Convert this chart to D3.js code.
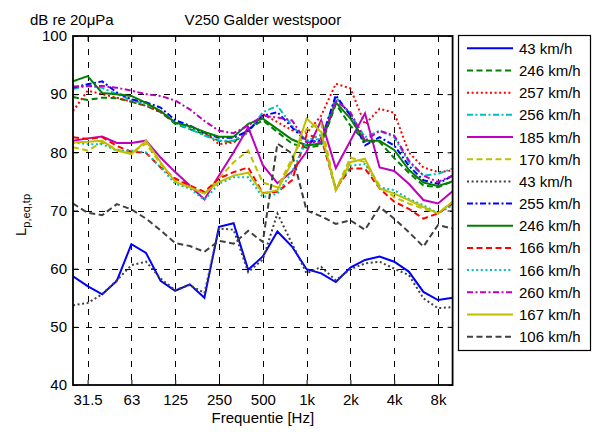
<!DOCTYPE html>
<html><head><meta charset="utf-8">
<script src="https://cdn.jsdelivr.net/npm/d3@7"></script>
<style>body{margin:0;background:#fff}svg{display:block;font-family:"Liberation Sans",Arial,sans-serif}</style>
</head><body><svg id="c" width="601" height="432"></svg>
<script>
const bands = ["25","31.5","40","50","63","80","100","125","160","200","250","315","400","500","630","800","1k","1.25k","1.6k","2k","2.5k","3.15k","4k","5k","6.3k","8k","10k"];
const xTicks = ["31.5","63","125","250","500","1k","2k","4k","8k"];
const yTicks = [40,50,60,70,80,90,100];
const seriesLabels = ["43 km/h","246 km/h","257 km/h","256 km/h","185 km/h","170 km/h","43 km/h","255 km/h","246 km/h","166 km/h","166 km/h","260 km/h","167 km/h","106 km/h"];

const blue43 = [58.7,57,55.6,57.9,64.2,62.7,57.9,56.2,57.3,55,67.2,67.8,59.8,62.1,66.4,63.8,59.9,59.2,57.7,60.2,61.5,62.1,61.2,59.5,56,54.6,55];
const green246dash = [89.5,89,89.4,89.3,88.7,88,86.9,84.9,84,83.1,82,81.7,84,85.5,83.5,81.5,80.8,81.2,88.3,84.6,81.8,81.8,79,76.5,74.3,74,75];
const red257 = [87.1,90.6,90,89.4,88.7,88,86.9,85.1,84.3,83.4,81.4,81.7,83.5,86.6,85.2,83.8,83.3,86.3,91.8,91,84.8,87.5,86.8,80,77.4,76.6,76.9];
const cyan256 = [90.9,91.4,91.1,90,89,88.3,87.1,85.1,84,82.9,82,82,83.4,86.9,88,84.6,82,82.3,89.5,86.6,82.6,83.7,82.6,78.3,76,76.3,77.2];
const magenta185 = [82,82.4,82.7,81.6,81.6,82,79.1,76.6,74.3,71.9,76,80,84.3,77.8,74.7,76.7,80.1,85.5,77.3,82,86.7,77.4,76.8,74.6,71.8,71.2,73.3];
const olive170 = [80.9,80.3,81.7,80.5,79.9,81.5,78,75.2,74.3,72.9,75.5,78.3,80.3,74.8,74,78.9,84,85,73.5,79.1,78.3,74.3,72.3,71.2,70.3,69.5,71.5];
const grey43 = [53.7,54.1,55.6,58,60.6,61.2,58.3,56.3,57.2,55.8,66.9,66.7,59.4,61.6,69.5,64.3,59.2,60.3,58,59.9,60.9,61.2,60,58.9,54.9,53.2,53.4];
const blue255 = [91.1,91.7,92.2,90.3,89.1,88.6,87.7,85.5,84.6,83.4,82.5,82.5,83.7,86.3,86.9,84.3,81.8,82,89.8,86.3,81.2,82.6,81.2,77.7,75.2,74.6,76];
const green246 = [92.2,93.1,90.2,90,89.7,88.5,87.1,85.1,84.5,83.5,82.7,82.7,84.9,85.8,84,82.2,81.2,81.5,88.6,85.8,82,82,80.4,77,74.8,74.2,75];
const red166 = [82.6,82.3,82.6,81.1,80.1,79.9,77.4,75.5,74.3,73.2,75.5,76.6,77.4,73,73.2,75.2,83,82.5,73.7,77.2,77.2,73.8,71.5,70.3,68.6,69.5,71.2];
const cyan166 = [81.7,81.4,81.4,80.3,80.3,80,77.4,74.6,73.8,71.8,74.6,75.7,75.7,72.3,72.9,76.6,82,83,73.5,77.7,78,74,73.5,72,70.9,69.5,70.9];
const magenta260 = [91.3,91.4,91.4,91.1,90.6,90,89.7,88.9,87.4,85.4,83.7,83.3,84.6,86.3,86,85.5,81.7,81.8,88.9,86.9,82,83.7,82.9,78.6,76,74.9,76];
const olive167 = [81.7,81.8,82,80.3,79.7,82,78.3,74.9,74,72.9,74.9,76,76.5,72.9,73.5,78.3,85.8,83.5,73.5,78.3,78.9,73.8,72.9,71.8,70.6,69.5,71.5];
const grey106 = [71.2,69.6,69.2,71.1,70.2,68.6,66.6,64.4,63.9,62.9,64.8,64.3,66.5,64.6,81.5,79.8,70,69,67.7,68.3,66.7,70.6,68.6,66.3,63.8,67.5,66.9];

const seriesValues = [blue43,green246dash,red257,cyan256,magenta185,olive170,grey43,blue255,green246,red166,cyan166,magenta260,olive167,grey106];
const styles = [
 {c:"#0000ff",d:null},{c:"#008000",d:"6,3.5"},{c:"#ff0000",d:"2,2.6"},{c:"#00bfbf",d:"6,2.5,2,2.5"},
 {c:"#bf00bf",d:null},{c:"#bfbf00",d:"6,3.5"},{c:"#404040",d:"2,2.6"},{c:"#0000ff",d:"6,2.5,2,2.5"},
 {c:"#008000",d:null},{c:"#ff0000",d:"6,3.5"},{c:"#00bfbf",d:"2,2.6"},{c:"#bf00bf",d:"6,2.5,2,2.5"},
 {c:"#bfbf00",d:null},{c:"#404040",d:"6,3.5"}];

const svg = d3.select("#c");
const L=73, R=452.6, T=36, B=385;
const x = d3.scalePoint().domain(bands).range([L,R]).padding(0);
const y = d3.scaleLinear().domain([40,100]).range([B,T]);
const fmt = d=>d;
const px = v=>Math.round(v)+0.5;

// grid
const g = svg.append("g");
g.selectAll(".vg").data(xTicks).enter().append("line")
 .attr("x1",d=>px(x(d))).attr("x2",d=>px(x(d))).attr("y1",T).attr("y2",B)
 .attr("stroke","#000").attr("stroke-width",1).attr("stroke-dasharray","6,7");
g.selectAll(".hg").data(yTicks.slice(1,-1)).enter().append("line")
 .attr("x1",L).attr("x2",R).attr("y1",d=>px(y(d))).attr("y2",d=>px(y(d)))
 .attr("stroke","#000").attr("stroke-width",1).attr("stroke-dasharray","6,7");

// lines
svg.append("clipPath").attr("id","pc").append("rect").attr("x",L).attr("y",T).attr("width",R-L).attr("height",B-T);
const line = d3.line().x((d,i)=>x(bands[i])).y(d=>y(d));
seriesValues.forEach((vals,k)=>{
  svg.append("path").datum(vals).attr("d",line).attr("fill","none")
   .attr("stroke",styles[k].c).attr("stroke-width",2)
   .attr("stroke-dasharray",styles[k].d).attr("clip-path","url(#pc)");
});

// axes
const xa = svg.append("g").attr("transform",`translate(0,${B})`)
 .call(d3.axisBottom(x).tickValues(xTicks).tickSize(-5).tickPadding(9).tickFormat(fmt));
const ya = svg.append("g").attr("transform",`translate(${L},0)`)
 .call(d3.axisLeft(y).tickValues(yTicks).tickSize(-5).tickPadding(6));
[xa,ya].forEach(a=>{a.select(".domain").remove();
 a.selectAll("text").attr("font-size",15).attr("font-family","Liberation Sans, Arial, sans-serif").attr("fill","#000");
 a.selectAll("line").attr("stroke","#000");});
svg.append("g").attr("transform",`translate(0,${T})`)
 .call(d3.axisTop(x).tickValues(xTicks).tickSize(-5).tickFormat(""))
 .call(a=>{a.select(".domain").remove();a.selectAll("line").attr("stroke","#000");});
svg.append("g").attr("transform",`translate(${R},0)`)
 .call(d3.axisRight(y).tickValues(yTicks).tickSize(-5).tickFormat(""))
 .call(a=>{a.select(".domain").remove();a.selectAll("line").attr("stroke","#000");});
svg.append("rect").attr("x",L).attr("y",T).attr("width",R-L).attr("height",B-T)
 .attr("fill","none").attr("stroke","#000").attr("stroke-width",1.8);

// texts
svg.append("text").attr("x",(L+R)/2).attr("y",25).attr("text-anchor","middle").attr("font-size",15).text("V250 Galder westspoor");
svg.append("text").attr("x",30).attr("y",25).attr("font-size",15).text("dB re 20\u03bcPa");
svg.append("text").attr("x",(L+R)/2).attr("y",423).attr("text-anchor","middle").attr("font-size",15).text("Frequentie [Hz]");
const yl = svg.append("text").attr("transform","translate(26,215) rotate(-90)").attr("text-anchor","middle").attr("font-size",15);
yl.append("tspan").text("L");
yl.append("tspan").attr("font-size",11).attr("dy",4).text("p,eq,tp");

// legend
const lg = svg.append("g");
lg.append("rect").attr("x",458.5).attr("y",35.5).attr("width",132).attr("height",315).attr("fill","#fff").attr("stroke","#000").attr("stroke-width",1.2);
seriesLabels.forEach((lab,k)=>{
  const yy = 48.3 + 22.18*k;
  lg.append("line").attr("x1",467).attr("x2",513).attr("y1",yy).attr("y2",yy)
   .attr("stroke",styles[k].c).attr("stroke-width",2).attr("stroke-dasharray",styles[k].d);
  lg.append("text").attr("x",519).attr("y",yy+5.5).attr("font-size",15).text(lab);
});
</script></body></html>
